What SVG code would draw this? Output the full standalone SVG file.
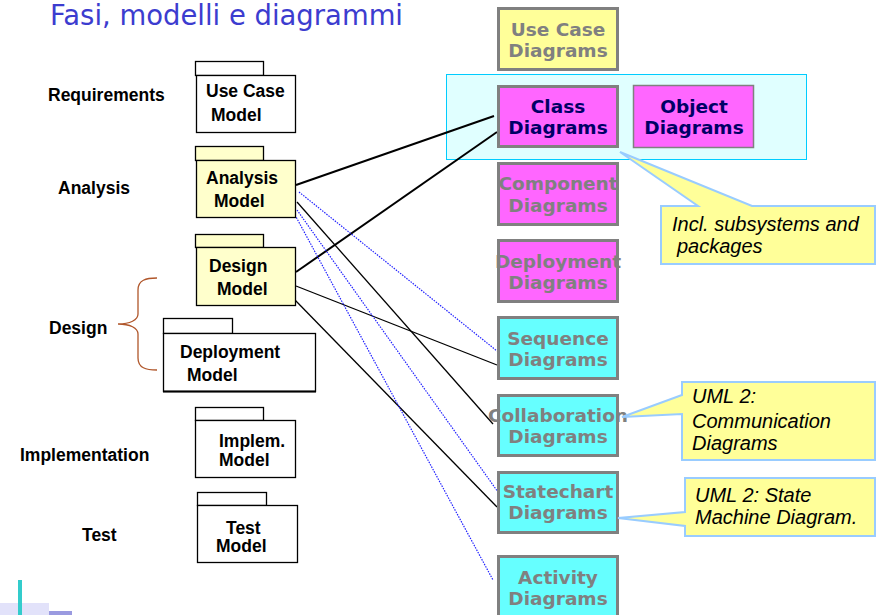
<svg xmlns="http://www.w3.org/2000/svg" width="876" height="615" viewBox="0 0 876 615">
<style>
.lbl{font-family:"Liberation Sans",Arial,sans-serif;font-weight:bold;font-size:17.5px;fill:#000}
.pk{stroke:#000;stroke-width:1.3}
.dg{stroke:#808080;stroke-width:3}
.dt{font-family:"DejaVu Sans",Verdana,sans-serif;font-weight:bold;font-size:18.5px;fill:#808080;text-anchor:middle}
.dn{fill:#000066}
.co{fill:#ffff99;stroke:#99ccff;stroke-width:2}
.ct{font-family:"Liberation Sans",Arial,sans-serif;font-style:italic;font-size:20px;fill:#000}
.sl{stroke:#000;fill:none}
.bl{stroke:#2222ff;stroke-width:1.2;stroke-dasharray:1.5 1.2;fill:none}
</style>
<rect width="876" height="615" fill="#fff"/>
<text x="50" y="25" font-family="'Comic Sans MS','DejaVu Sans',sans-serif" font-size="28" fill="#3c3ccf" textLength="353" lengthAdjust="spacingAndGlyphs">Fasi, modelli e diagrammi</text>

<g id="phases">
<text class="lbl" x="48" y="101">Requirements</text>
<text class="lbl" x="58" y="194">Analysis</text>
<text class="lbl" x="49" y="334">Design</text>
<text class="lbl" x="20" y="461">Implementation</text>
<text class="lbl" x="82" y="541">Test</text>
<path d="M157,278 C146,278 138,280 138,290 L138,314 C138,320 130,324 118,324 C130,324 138,328 138,334 L138,358 C138,368 146,370 157,370" fill="none" stroke="#b0562a" stroke-width="1.3"/>
</g>

<g id="group-bg">
<rect x="446.5" y="74.5" width="360" height="85" fill="#e0ffff" stroke="#00ccff" stroke-width="1"/>
</g>

<g id="connectors">
<line class="sl" x1="296" y1="185" x2="494" y2="116" stroke-width="2"/>
<line class="sl" x1="296" y1="272" x2="497" y2="132" stroke-width="2"/>
<line class="sl" x1="297" y1="202" x2="493" y2="424" stroke-width="1.3"/>
<line class="sl" x1="296" y1="286" x2="497" y2="365" stroke-width="1.3"/>
<line class="sl" x1="295" y1="300" x2="497" y2="507" stroke-width="1.3"/>
<line class="bl" x1="299" y1="192" x2="497" y2="351"/>
<line class="bl" x1="297" y1="210" x2="498" y2="492"/>
<line class="bl" x1="295" y1="215" x2="493" y2="580"/>
</g>

<g id="usecase-model">
<rect class="pk" x="195.5" y="61.5" width="68" height="14" fill="#fff"/>
<rect class="pk" x="196.5" y="75.5" width="99" height="57" fill="#fff"/>
<text class="lbl" x="206" y="97">Use Case</text>
<text class="lbl" x="211" y="121">Model</text>
</g>
<g id="analysis-model">
<rect class="pk" x="195.5" y="146.5" width="68" height="14" fill="#ffffcc"/>
<rect class="pk" x="196.5" y="160.5" width="99" height="57" fill="#ffffcc"/>
<text class="lbl" x="206" y="184">Analysis</text>
<text class="lbl" x="214" y="207">Model</text>
</g>
<g id="design-model">
<rect class="pk" x="195.5" y="234.5" width="68" height="13" fill="#ffffcc"/>
<rect class="pk" x="196.5" y="247.5" width="99" height="58" fill="#ffffcc"/>
<text class="lbl" x="209" y="272">Design</text>
<text class="lbl" x="217" y="295">Model</text>
</g>
<g id="deployment-model">
<rect class="pk" x="163.5" y="318.5" width="69" height="15" fill="#fff"/>
<rect class="pk" x="163.5" y="333.5" width="152" height="58" fill="#fff"/>
<line x1="163" y1="391.5" x2="316" y2="391.5" stroke="#000" stroke-width="2"/>
<text class="lbl" x="180" y="358">Deployment</text>
<text class="lbl" x="187" y="381">Model</text>
</g>
<g id="implem-model">
<rect class="pk" x="195.5" y="407.5" width="68" height="13" fill="#fff"/>
<rect class="pk" x="195.5" y="420.5" width="100" height="57" fill="#fff"/>
<text class="lbl" x="219" y="447">Implem.</text>
<text class="lbl" x="219" y="466">Model</text>
</g>
<g id="test-model">
<rect class="pk" x="197.5" y="492.5" width="69" height="13" fill="#fff"/>
<rect class="pk" x="197.5" y="505.5" width="100" height="57" fill="#fff"/>
<text class="lbl" x="226" y="534">Test</text>
<text class="lbl" x="216" y="552">Model</text>
</g>

<g id="usecase-diagrams">
<rect class="dg" x="498.5" y="8.5" width="119" height="61" fill="#ffff99"/>
<text class="dt" x="558" y="36">Use Case</text>
<text class="dt" x="558" y="57">Diagrams</text>
</g>
<g id="class-diagrams">
<rect class="dg" x="498.5" y="86.5" width="119" height="60" fill="#ff66ff"/>
<text class="dt dn" x="558" y="113">Class</text>
<text class="dt dn" x="558" y="134">Diagrams</text>
</g>
<g id="object-diagrams">
<rect x="633.5" y="85.5" width="120" height="62" fill="#ff66ff" stroke="#808080" stroke-width="1.5"/>
<text class="dt dn" x="694" y="113">Object</text>
<text class="dt dn" x="694" y="134">Diagrams</text>
</g>
<g id="component-diagrams">
<rect class="dg" x="498.5" y="163.5" width="119" height="61" fill="#ff66ff"/>
<text class="dt" x="558" y="190">Component</text>
<text class="dt" x="558" y="212">Diagrams</text>
</g>
<g id="deployment-diagrams">
<rect class="dg" x="498.5" y="240.5" width="119" height="61" fill="#ff66ff"/>
<text class="dt" x="558" y="268">Deployment</text>
<text class="dt" x="558" y="289">Diagrams</text>
</g>
<g id="sequence-diagrams">
<rect class="dg" x="498.5" y="317.5" width="119" height="61" fill="#66ffff"/>
<text class="dt" x="558" y="345">Sequence</text>
<text class="dt" x="558" y="366">Diagrams</text>
</g>
<g id="collaboration-diagrams">
<rect class="dg" x="498.5" y="395.5" width="119" height="60" fill="#66ffff"/>
<text class="dt" x="558" y="422">Collaboration</text>
<text class="dt" x="558" y="443">Diagrams</text>
</g>
<g id="statechart-diagrams">
<rect class="dg" x="498.5" y="472.5" width="119" height="60" fill="#66ffff"/>
<text class="dt" x="558" y="498">Statechart</text>
<text class="dt" x="558" y="519">Diagrams</text>
</g>
<g id="activity-diagrams">
<rect class="dg" x="498.5" y="556.5" width="119" height="64" fill="#66ffff"/>
<text class="dt" x="558" y="584">Activity</text>
<text class="dt" x="558" y="605">Diagrams</text>
</g>

<g id="note-subsystems">
<path class="co" d="M661,206 L698,206 L620,152 L752,206 L875,206 L875,264 L661,264 Z"/>
<text class="ct" x="672" y="231">Incl. subsystems and</text>
<text class="ct" x="677" y="253">packages</text>
</g>
<g id="note-communication">
<path class="co" d="M682,382 L875,382 L875,460 L682,460 L682,414 L622,417 L682,395 Z"/>
<text class="ct" x="692" y="403">UML 2:</text>
<text class="ct" x="692" y="428">Communication</text>
<text class="ct" x="692" y="450">Diagrams</text>
</g>
<g id="note-state">
<path class="co" d="M685,478 L875,478 L875,536 L685,536 L685,526 L618,518 L685,512 Z"/>
<text class="ct" x="695" y="502">UML 2: State</text>
<text class="ct" x="695" y="524">Machine Diagram.</text>
</g>

<g id="decoration">
<rect x="0" y="603" width="49" height="12" fill="#e2e2fa"/>
<rect x="49" y="611" width="23" height="4" fill="#9a9ae0"/>
<rect x="18" y="580" width="4" height="35" fill="#33cccc"/>
</g>
</svg>
